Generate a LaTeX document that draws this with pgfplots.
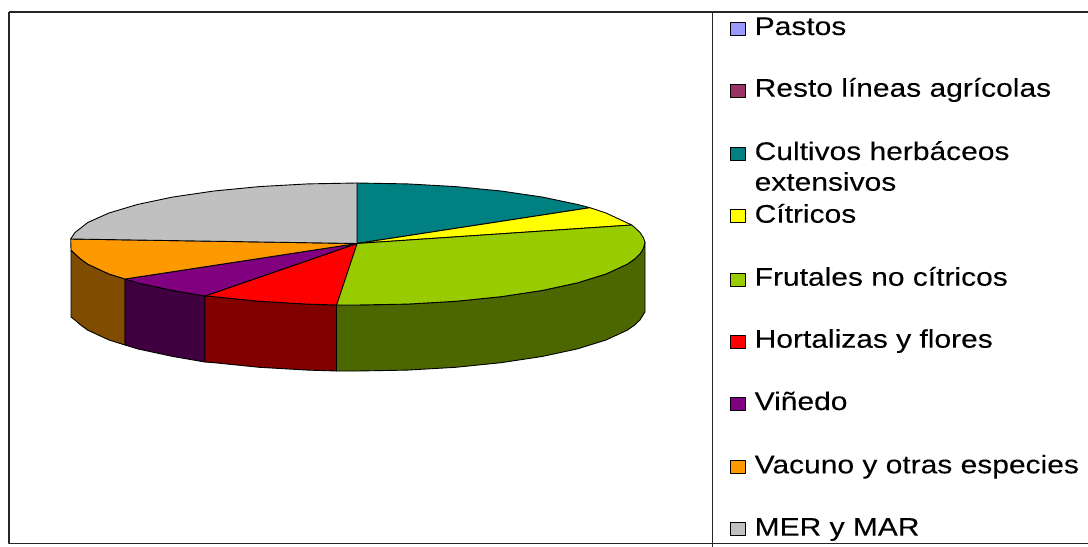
\documentclass[border=0pt]{standalone}
\usepackage{fontspec}
\setmainfont[FakeStretch=1.175,FakeBold=0.12]{Liberation Sans}
\usepackage{pgfplots}
\pgfplotsset{compat=1.18}
\definecolor{cPastos}{HTML}{9999FF}
\definecolor{cResto}{HTML}{993366}
\definecolor{cTeal}{HTML}{008080}
\definecolor{cYellow}{HTML}{FFFF00}
\definecolor{cGreen}{HTML}{99CC00}
\definecolor{cRed}{HTML}{FF0000}
\definecolor{cPurple}{HTML}{800080}
\definecolor{cOrange}{HTML}{FF9900}
\definecolor{cGray}{HTML}{C0C0C0}
\definecolor{dGreen}{HTML}{4C6600}
\definecolor{dRed}{HTML}{800000}
\definecolor{dPurple}{HTML}{400040}
\definecolor{dOrange}{HTML}{804C00}
\tikzset{lbl/.style={anchor=base west, inner sep=0pt, font=\fontsize{25.5bp}{28bp}\selectfont, text=black}}
\begin{document}
\begin{tikzpicture}
\begin{axis}[
  scale only axis,
  width=1088bp, height=547bp,
  xmin=0, xmax=1088, ymin=0, ymax=547,
  y dir=reverse,
  hide axis,
  every axis plot/.append style={no markers, line join=round, draw=black, line width=0.9bp},
]
% keep the whole page
\path (axis cs:0,0) rectangle (axis cs:1088,547);
% frame
\addplot[line width=1.2bp, draw=black!85] coordinates {(9,12)(1088,12)};
\addplot[line width=1.2bp, draw=black!85] coordinates {(9,12)(9,543.5)(1088,543.5)};
\addplot[line width=1.2bp, draw=black!85] coordinates {(712.3,12)(712.3,547)};
% side walls
\addplot[fill=dOrange] coordinates {(71,250)(74.9,253.8)(80,258.5)(87.8,264.2)(109,274)(125,279)(125,345)(109,340)(87.8,330.2)(80,324.5)(74.9,320)(71,317)(71,250)};
\addplot[fill=dPurple] coordinates {(125,279)(137.7,282.9)(173,290.5)(205,296)(205,362)(173,356.5)(137.7,348.9)(125,345)(125,279)};
\addplot[fill=dRed] coordinates {(205,296)(214,296.7)(259.3,301.3)(307.7,304.1)(336.5,305)(336.5,371)(307.7,370.1)(259.3,367.3)(214,362.7)(205,362)(205,296)};
\addplot[fill=dGreen] coordinates {(336.5,305)(357.5,305)(407.3,304.1)(455.7,301.3)(501,296.7)(542,290.5)(577.3,282.9)(606,274)(627.2,264.2)(634.7,259)(640.1,253.8)(643.4,248.4)(645,242)(645,312)(643.4,314.4)(640.1,319.8)(634.7,325)(627.2,330.2)(606,340)(577.3,348.9)(542,356.5)(501,362.7)(455.7,367.3)(407.3,370.1)(357.5,371)(336.5,371)(336.5,305)};
% top face
\addplot[fill=cTeal] coordinates {(357,243.5)(357,183)(407.3,183.9)(455.7,186.6)(501,191)(542,197)(577.3,204.4)(590,207.7)(357,243.5)};
\addplot[fill=cYellow] coordinates {(357,243.5)(590,207.7)(606,213)(631.7,225)(357,243.5)};
\addplot[fill=cGreen] coordinates {(357,243.5)(631.7,225)(634.7,227.5)(640.1,232.6)(643.4,237.8)(645,242)(643.4,248.4)(640.1,253.8)(634.7,259)(627.2,264.2)(606,274)(577.3,282.9)(542,290.5)(501,296.7)(455.7,301.3)(407.3,304.1)(357.5,305)(336.5,305)(357,243.5)};
\addplot[fill=cRed] coordinates {(357,243.5)(336.5,305)(307.7,304.1)(259.3,301.3)(214,296.7)(205,296)(357,243.5)};
\addplot[fill=cPurple] coordinates {(357,243.5)(205,296)(173,290.5)(137.7,282.9)(125,279)(357,243.5)};
\addplot[fill=cOrange] coordinates {(357,243.5)(125,279)(109,274)(87.8,264.2)(80,258.5)(74.9,253.8)(71,250)(70.7,239)(357,243.5)};
\addplot[fill=cGray] coordinates {(357,243.5)(70.7,239)(74.9,232.6)(87.8,222.5)(109,213)(137.7,204.4)(173,197)(214,191)(259.3,186.6)(307.7,183.9)(357,183)(357,243.5)};
% legend swatches
\addplot[fill=cPastos] coordinates {(730,22.5)(745.5,22.5)(745.5,35.5)(730,35.5)(730,22.5)};
\addplot[fill=cResto] coordinates {(730,84.5)(745.5,84.5)(745.5,97.5)(730,97.5)(730,84.5)};
\addplot[fill=cTeal] coordinates {(730,147.5)(745.5,147.5)(745.5,160.5)(730,160.5)(730,147.5)};
\addplot[fill=cYellow] coordinates {(730,209.5)(745.5,209.5)(745.5,222.5)(730,222.5)(730,209.5)};
\addplot[fill=cGreen] coordinates {(730,273.5)(745.5,273.5)(745.5,286.5)(730,286.5)(730,273.5)};
\addplot[fill=cRed] coordinates {(730,335.5)(745.5,335.5)(745.5,348.5)(730,348.5)(730,335.5)};
\addplot[fill=cPurple] coordinates {(730,397.5)(745.5,397.5)(745.5,410.5)(730,410.5)(730,397.5)};
\addplot[fill=cOrange] coordinates {(730,460.5)(745.5,460.5)(745.5,473.5)(730,473.5)(730,460.5)};
\addplot[fill=cGray] coordinates {(730,522.5)(745.5,522.5)(745.5,535.5)(730,535.5)(730,522.5)};
% legend text
\node[lbl] at (axis cs:754.5,35) {Pastos};
\node[lbl] at (axis cs:754.5,96.7) {Resto líneas agrícolas};
\node[lbl] at (axis cs:754.5,160) {Cultivos herbáceos};
\node[lbl] at (axis cs:754.5,190.7) {extensivos};
\node[lbl] at (axis cs:754.5,222.7) {Cítricos};
\node[lbl] at (axis cs:754.5,285.7) {Frutales no cítricos};
\node[lbl] at (axis cs:754.5,347.7) {Hortalizas y flores};
\node[lbl] at (axis cs:754.5,410) {Viñedo};
\node[lbl] at (axis cs:754.5,473.3) {Vacuno y otras especies};
\node[lbl] at (axis cs:754.5,535.7) {MER y MAR};
\end{axis}
\end{tikzpicture}
\end{document}
